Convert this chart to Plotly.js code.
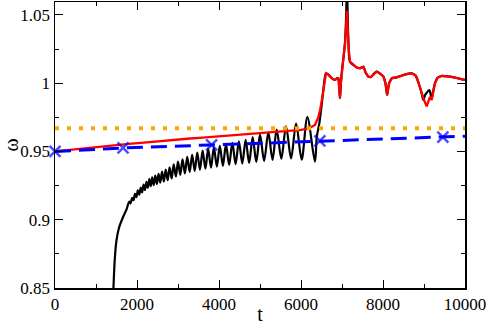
<!DOCTYPE html>
<html>
<head>
<meta charset="utf-8">
<script src="https://cdn.plot.ly/plotly-3.0.1.min.js"></script>
<style>
  html, body { margin: 0; padding: 0; background: #fff; }
  #chart { width: 491px; height: 325px; }
</style>
</head>
<body>
<div id="chart"></div>
<script>
// ---- data ----
// black curve: initial rise, then alternating peaks / troughs, then the merged tail
const blackT = [1400, 1425, 1460, 1500, 1560, 1660, 1750,
  1810, 1845, 1880, 1915, 1950, 1985, 2020, 2055, 2090, 2125, 2160, 2195, 2230, 2265,
  2300, 2335, 2370, 2408, 2445, 2485, 2525, 2568, 2610, 2655, 2700, 2748, 2795, 2845,
  2895, 2948, 3000, 3055, 3110, 3168, 3225, 3285, 3345, 3408, 3470, 3535, 3600, 3668,
  3735, 3805, 3875, 3948, 4020, 4095, 4170, 4248, 4325, 4405, 4485, 4568, 4650, 4735,
  4821, 4910, 5000, 5100, 5203, 5305, 5407, 5520, 5635, 5758, 5880, 6016, 6155, 6340,
  6385, 6447, 6504, 6545, 6610, 6660, 6707, 6780, 6829, 6880, 6910, 6935, 6951, 6970,
  6992, 7033, 7073, 7100, 7120, 7140, 7160, 7195, 7276, 7360, 7439, 7520, 7578, 7642,
  7700, 7780, 7846, 7930, 8008, 8060, 8100, 8150, 8212, 8333, 8496, 8600, 8699, 8800,
  8870, 8943, 8984, 9030, 9065, 9130, 9187, 9230, 9268, 9330, 9431, 9634, 9837, 10000];
const blackW = [0.830, 0.850, 0.872, 0.885, 0.894, 0.902, 0.908,
  0.9132, 0.9120, 0.9161, 0.9143, 0.9189, 0.9165, 0.9216, 0.9184, 0.9236, 0.9200, 0.9257, 0.9217, 0.9277, 0.9234,
  0.9298, 0.9246, 0.9310, 0.9254, 0.9323, 0.9262, 0.9337, 0.9271, 0.9352, 0.9280, 0.9368, 0.9290, 0.9384, 0.9302,
  0.9405, 0.9317, 0.9426, 0.9329, 0.9442, 0.9339, 0.9460, 0.9350, 0.9476, 0.9358, 0.9492, 0.9366, 0.9506, 0.9374,
  0.9519, 0.9382, 0.9530, 0.9389, 0.9541, 0.9394, 0.9552, 0.9401, 0.9564, 0.9407, 0.9575, 0.9411, 0.9586, 0.9416,
  0.9605, 0.9423, 0.9625, 0.9430, 0.9640, 0.9439, 0.9660, 0.9447, 0.9684, 0.9449, 0.9705, 0.9440, 0.9752, 0.9425,
  0.9608, 0.9706, 0.9840, 0.9950, 1.0073, 1.0065, 1.0050, 1.0030, 1.0024, 1.0036, 1.0036, 0.9960, 0.9890, 0.9990,
  1.0073, 1.0180, 1.0300, 1.0480, 1.0750, 1.0480, 1.0280, 1.0158, 1.0134, 1.0115, 1.0110, 1.0120, 1.0077, 1.0048,
  1.0045, 1.0070, 1.0085, 1.0070, 1.0050, 1.0000, 0.9914, 1.0000, 1.0036, 1.0043, 1.0060, 1.0068, 1.0073, 1.0055,
  1.0000, 0.9926, 0.9877, 0.9915, 0.9930, 0.9950, 0.9890, 0.9950, 1.0000, 1.0040, 1.0053, 1.0048, 1.0036, 1.0024];

const redT = [0, 300, 600, 900, 1200, 1500, 1800, 2100, 2400, 2700, 3000, 3300, 3600, 3900,
  4200, 4500, 4800, 5100, 5400, 5700, 6000, 6200, 6341, 6420, 6463, 6510, 6545, 6610, 6660,
  6707, 6780, 6829, 6880, 6910, 6935, 6951, 6970, 6992, 7033, 7073, 7100, 7120, 7140, 7160,
  7195, 7276, 7360, 7439, 7520, 7578, 7642, 7700, 7780, 7846, 7930, 8008, 8060, 8100, 8150,
  8212, 8333, 8496, 8600, 8699, 8800, 8870, 8943, 9000, 9065, 9110, 9146, 9187, 9230, 9268,
  9330, 9431, 9634, 9837, 10000];
const redW = [0.9500, 0.9510, 0.9520, 0.9530, 0.9539, 0.9547, 0.9555, 0.9563, 0.9572, 0.9580,
  0.9588, 0.9595, 0.9602, 0.9609, 0.9616, 0.9622, 0.9628, 0.9634, 0.9640, 0.9648, 0.9658,
  0.9670, 0.9694, 0.9750, 0.9800, 0.9880, 0.9950, 1.0073, 1.0065, 1.0050, 1.0030, 1.0024,
  1.0036, 1.0036, 0.9960, 0.9890, 0.9990, 1.0073, 1.0180, 1.0280, 1.0400, 1.0530, 1.0400,
  1.0260, 1.0158, 1.0134, 1.0115, 1.0110, 1.0120, 1.0077, 1.0048, 1.0045, 1.0070, 1.0085,
  1.0070, 1.0050, 1.0000, 0.9914, 1.0000, 1.0036, 1.0043, 1.0060, 1.0068, 1.0073, 1.0055,
  1.0000, 0.9926, 0.9877, 0.9830, 0.9880, 0.9900, 0.9877, 0.9950, 1.0000, 1.0040, 1.0053,
  1.0048, 1.0036, 1.0024];

const blueT = [0, 1660, 3820, 6460, 9460, 10000];
const blueW = [0.9500, 0.9526, 0.9548, 0.9577, 0.9606, 0.9612];
const blueMarkerOn = [true, true, true, true, true, false];

const orangeT = [0, 10000];
const orangeW = [0.967, 0.967];

const xTickVals = [0, 2000, 4000, 6000, 8000, 10000];
const xTickText = ["0", "2000", "4000", "6000", "8000", "10000"];
const yTickVals = [0.85, 0.9, 0.95, 1, 1.05];
const yTickText = ["0.85", "0.9", "0.95", "1", "1.05"];

// ---- plot ----
const serif = "Liberation Serif";

const traces = [
  {
    x: blackT, y: blackW, type: "scatter", mode: "lines",
    line: { color: "#000000", width: 2.2, shape: "spline", smoothing: 0.9 },
    hoverinfo: "skip",
  },
  {
    x: redT, y: redW, type: "scatter", mode: "lines",
    line: { color: "#ff0000", width: 2.3 },
    hoverinfo: "skip",
  },
  {
    x: orangeT, y: orangeW, type: "scatter", mode: "lines",
    line: { color: "#ffa500", width: 4, dash: "4px,8px" },
    hoverinfo: "skip",
  },
  {
    x: blueT, y: blueW, type: "scatter", mode: "lines+markers",
    line: { color: "#0000ff", width: 3, dash: "16px,8px" },
    marker: {
      symbol: "x-thin-open", color: "#0000ff",
      size: blueMarkerOn.map((on) => (on ? 11 : 0)),
      line: { color: "#0000ff", width: 2.5 },
    },
    cliponaxis: false,
    hoverinfo: "skip",
  },
];

const axisCommon = {
  showgrid: false, zeroline: false,
  showline: true, linecolor: "#000", linewidth: 1.5, mirror: "ticks",
  ticks: "inside", ticklen: 8, tickwidth: 1, tickcolor: "#000",
  tickfont: { family: serif, size: 17, color: "#000" },
};

const layout = {
  width: 491, height: 325,
  margin: { l: 55, r: 26, t: 2, b: 37 },
  font: { family: serif, size: 17, color: "#000" },
  paper_bgcolor: "#fff", plot_bgcolor: "#fff",
  showlegend: false,
  xaxis: Object.assign({}, axisCommon, {
    range: [0, 10000],
    tickmode: "array", tickvals: xTickVals, ticktext: xTickText,
    minor: { dtick: 1000, ticks: "inside", ticklen: 4, tickwidth: 1, tickcolor: "#000" },
    title: { text: "t", font: { family: serif, size: 20, color: "#000" }, standoff: 0 },
  }),
  yaxis: Object.assign({}, axisCommon, {
    range: [0.85, 1.0595],
    tickmode: "array", tickvals: yTickVals, ticktext: yTickText,
    minor: { dtick: 0.025, ticks: "inside", ticklen: 4, tickwidth: 1, tickcolor: "#000" },
    title: { text: "ω", font: { family: serif, size: 20, color: "#000" }, standoff: 5 },
  }),
};

Plotly.newPlot("chart", traces, layout, { staticPlot: true, displayModeBar: false });
</script>
</body>
</html>
